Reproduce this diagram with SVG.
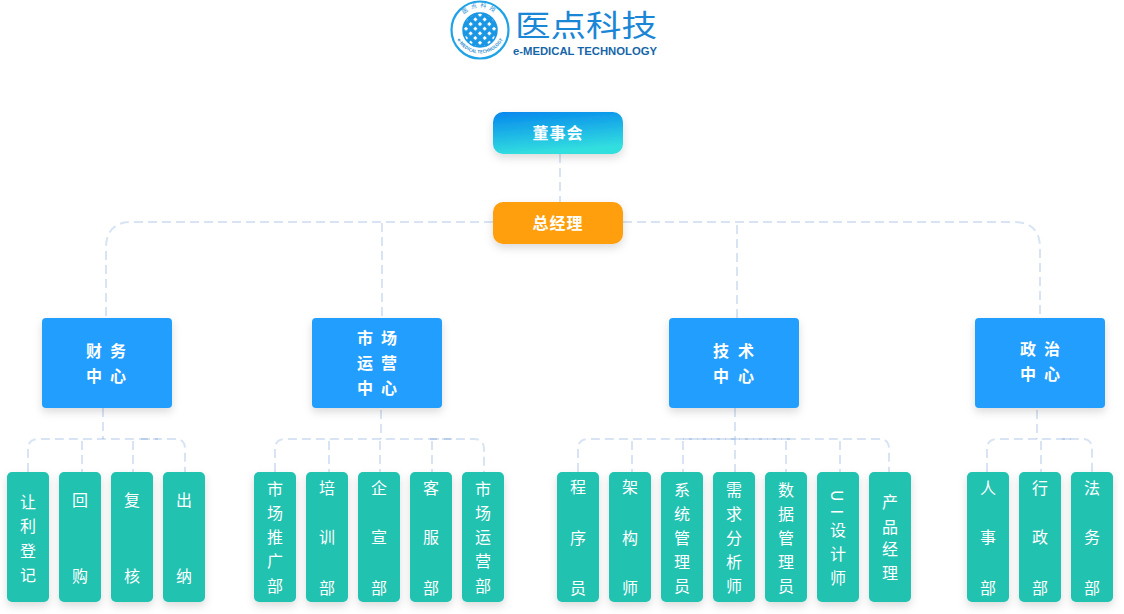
<svg xmlns="http://www.w3.org/2000/svg" width="1124" height="614" viewBox="0 0 1124 614">
<style>
text{font-family:"Noto Sans CJK SC","Noto Sans",sans-serif;fill:#fff;font-size:16px}
.b{font-weight:700;text-anchor:middle}
.t{text-anchor:middle}
.c{fill:none;stroke:#3c78c8;stroke-opacity:.2;stroke-width:2;stroke-dasharray:9 5}
.leaf{fill:#21c2b1;filter:url(#s)}
.mid{fill:#249eff;filter:url(#s)}
</style>
<defs>
<filter id="s" x="-30%" y="-30%" width="160%" height="170%"><feDropShadow dx="0" dy="4" stdDeviation="4" flood-color="#000" flood-opacity=".14"/></filter>
<linearGradient id="g" x1="0" y1="0" x2="0.25" y2="1"><stop offset="0" stop-color="#0587ee"/><stop offset="1" stop-color="#33dfdf"/></linearGradient>
<pattern id="dots" width="6.6" height="6.6" patternUnits="userSpaceOnUse" patternTransform="translate(480 30) rotate(45)"><rect width="6.6" height="6.6" fill="#1a97e4"/><rect x="0.9" y="0.9" width="3" height="3" fill="#fff"/></pattern>
<path id="ringTop" d="M457.5 30A22.5 22.5 0 0 1 502.5 30"/>
<path id="ringBot" d="M455 33A25.500 25.500 0 0 0 505 33"/>
</defs>
<g id="logo">
<circle cx="480" cy="30" r="28.500" fill="#fff" stroke="#1fa3e6" stroke-width="2.200"/>
<circle cx="480" cy="30" r="17" fill="url(#dots)" stroke="#1a97e4" stroke-width="1.500"/>
<text style="font-size:6px;fill:#2f8fcf;letter-spacing:3px" text-anchor="middle"><textPath href="#ringTop" startOffset="50%">医点科技</textPath></text>
<text style="font-size:4.500px;fill:#2f8fcf;font-weight:700" text-anchor="middle"><textPath href="#ringBot" startOffset="50%">e-MEDICAL TECHNOLOGY</textPath></text>
<text x="515" y="36" textLength="142" lengthAdjust="spacingAndGlyphs" style="font-size:30px;font-weight:400;fill:#1a86d6">医点科技</text>
<text x="513" y="55" textLength="144" lengthAdjust="spacingAndGlyphs" style="font-family:'Liberation Sans',sans-serif;font-size:10.500px;font-weight:700;fill:#1565a8">e-MEDICAL TECHNOLOGY</text>
</g>
<g id="connectors">
<path class="c" d="M560 154V202"/>
<path class="c" d="M493 222H132Q106 222 106 248V318"/>
<path class="c" d="M623 222H1014Q1040 222 1040 248V318"/>
<path class="c" d="M382 223V318"/>
<path class="c" d="M737 225V318"/>
<path class="c" d="M103 408V439"/>
<path class="c" d="M28 472V449Q28 439 38 439H175Q185 439 185 449V472"/>
<path class="c" d="M82 441V472M133 441V472"/>
<path class="c" d="M141 439H158"/>
<path class="c" d="M381 410V439"/>
<path class="c" d="M275 472V449Q275 439 285 439H474Q484 439 484 449V472"/>
<path class="c" d="M329 441V472M380 441V472M432 441V472"/>
<path class="c" d="M430 439H452"/>
<path class="c" d="M735 408V472"/>
<path class="c" d="M578 472V449Q578 439 588 439H879Q889 439 889 449V472"/>
<path class="c" d="M632 441V472M683 441V472M786 441V472M840 441V472"/>
<path class="c" d="M683 439H790"/>
<path class="c" d="M1037 410V439"/>
<path class="c" d="M987 472V449Q987 439 997 439H1082Q1092 439 1092 449V472"/>
<path class="c" d="M1041 441V472"/>
<path class="c" d="M1062 439H1076"/>
</g>
<g id="n-board"><rect x="493" y="112" width="130" height="42" rx="10" fill="url(#g)" filter="url(#s)"/><text class="b" x="558" y="139" letter-spacing="1">董事会</text></g>
<g id="n-gm"><rect x="493" y="202" width="130" height="42" rx="10" fill="#ff9f0c" filter="url(#s)"/><text class="b" x="558" y="228.500" letter-spacing="1">总经理</text></g>
<g id="n-fin"><rect class="mid" x="42" y="318" width="130" height="90" rx="4"/><text class="b"><tspan x="94" y="356.500">财</tspan><tspan x="118" y="356.500">务</tspan><tspan x="94" y="381.500">中</tspan><tspan x="118" y="381.500">心</tspan></text></g>
<g id="n-mkt"><rect class="mid" x="312" y="318" width="130" height="90" rx="4"/><text class="b"><tspan x="365" y="343.500">市</tspan><tspan x="389" y="343.500">场</tspan><tspan x="365" y="368.500">运</tspan><tspan x="389" y="368.500">营</tspan><tspan x="365" y="393.500">中</tspan><tspan x="389" y="393.500">心</tspan></text></g>
<g id="n-tech"><rect class="mid" x="669" y="318" width="130" height="90" rx="4"/><text class="b"><tspan x="721" y="356.500">技</tspan><tspan x="746" y="356.500">术</tspan><tspan x="721" y="381.500">中</tspan><tspan x="746" y="381.500">心</tspan></text></g>
<g id="n-pol"><rect class="mid" x="975" y="318" width="130" height="90" rx="4"/><text class="b"><tspan x="1028" y="354.500">政</tspan><tspan x="1052" y="354.500">治</tspan><tspan x="1028" y="379.500">中</tspan><tspan x="1052" y="379.500">心</tspan></text></g>
<g id="l1"><rect class="leaf" x="7" y="472" width="42" height="130" rx="5"/><text class="t"><tspan x="28" y="507.500">让</tspan><tspan x="28" y="532">利</tspan><tspan x="28" y="556.500">登</tspan><tspan x="28" y="580.500">记</tspan></text></g>
<g id="l2"><rect class="leaf" x="59" y="472" width="42" height="130" rx="5"/><text class="t"><tspan x="80" y="506">回</tspan><tspan x="80" y="582">购</tspan></text></g>
<g id="l3"><rect class="leaf" x="111" y="472" width="42" height="130" rx="5"/><text class="t"><tspan x="132" y="506">复</tspan><tspan x="132" y="582">核</tspan></text></g>
<g id="l4"><rect class="leaf" x="163" y="472" width="42" height="130" rx="5"/><text class="t"><tspan x="184" y="506">出</tspan><tspan x="184" y="582">纳</tspan></text></g>
<g id="l5"><rect class="leaf" x="254" y="472" width="42" height="130" rx="5"/><text class="t"><tspan x="275" y="495">市</tspan><tspan x="275" y="519">场</tspan><tspan x="275" y="543">推</tspan><tspan x="275" y="567">广</tspan><tspan x="275" y="591.500">部</tspan></text></g>
<g id="l6"><rect class="leaf" x="306" y="472" width="42" height="130" rx="5"/><text class="t"><tspan x="327" y="493.500">培</tspan><tspan x="327" y="543">训</tspan><tspan x="327" y="593.500">部</tspan></text></g>
<g id="l7"><rect class="leaf" x="358" y="472" width="42" height="130" rx="5"/><text class="t"><tspan x="379" y="493.500">企</tspan><tspan x="379" y="543">宣</tspan><tspan x="379" y="593.500">部</tspan></text></g>
<g id="l8"><rect class="leaf" x="410" y="472" width="42" height="130" rx="5"/><text class="t"><tspan x="431" y="493.500">客</tspan><tspan x="431" y="543">服</tspan><tspan x="431" y="593.500">部</tspan></text></g>
<g id="l9"><rect class="leaf" x="462" y="472" width="42" height="130" rx="5"/><text class="t"><tspan x="483" y="495">市</tspan><tspan x="483" y="519">场</tspan><tspan x="483" y="543">运</tspan><tspan x="483" y="567">营</tspan><tspan x="483" y="591.500">部</tspan></text></g>
<g id="l10"><rect class="leaf" x="557" y="472" width="42" height="130" rx="5"/><text class="t"><tspan x="578" y="493">程</tspan><tspan x="578" y="543.500">序</tspan><tspan x="578" y="593.500">员</tspan></text></g>
<g id="l11"><rect class="leaf" x="609" y="472" width="42" height="130" rx="5"/><text class="t"><tspan x="630" y="493">架</tspan><tspan x="630" y="543.500">构</tspan><tspan x="630" y="593.500">师</tspan></text></g>
<g id="l12"><rect class="leaf" x="661" y="472" width="42" height="130" rx="5"/><text class="t"><tspan x="682" y="495.500">系</tspan><tspan x="682" y="519.500">统</tspan><tspan x="682" y="543.500">管</tspan><tspan x="682" y="567.500">理</tspan><tspan x="682" y="591.500">员</tspan></text></g>
<g id="l13"><rect class="leaf" x="713" y="472" width="42" height="130" rx="5"/><text class="t"><tspan x="734" y="495.500">需</tspan><tspan x="734" y="519.500">求</tspan><tspan x="734" y="543.500">分</tspan><tspan x="734" y="567.500">析</tspan><tspan x="734" y="591.500">师</tspan></text></g>
<g id="l14"><rect class="leaf" x="765" y="472" width="42" height="130" rx="5"/><text class="t"><tspan x="786" y="495.500">数</tspan><tspan x="786" y="519.500">据</tspan><tspan x="786" y="543.500">管</tspan><tspan x="786" y="567.500">理</tspan><tspan x="786" y="591.500">员</tspan></text></g>
<g id="l15"><rect class="leaf" x="817" y="472" width="42" height="130" rx="5"/><text x="838" y="490" style="writing-mode:vertical-rl;letter-spacing:8px">UI设计师</text></g>
<g id="l16"><rect class="leaf" x="869" y="472" width="42" height="130" rx="5"/><text class="t"><tspan x="890" y="507.500">产</tspan><tspan x="890" y="532.500">品</tspan><tspan x="890" y="555">经</tspan><tspan x="890" y="579">理</tspan></text></g>
<g id="l17"><rect class="leaf" x="967" y="472" width="42" height="130" rx="5"/><text class="t"><tspan x="988" y="493.500">人</tspan><tspan x="988" y="543">事</tspan><tspan x="988" y="593.500">部</tspan></text></g>
<g id="l18"><rect class="leaf" x="1019" y="472" width="42" height="130" rx="5"/><text class="t"><tspan x="1040" y="493.500">行</tspan><tspan x="1040" y="543">政</tspan><tspan x="1040" y="593.500">部</tspan></text></g>
<g id="l19"><rect class="leaf" x="1071" y="472" width="42" height="130" rx="5"/><text class="t"><tspan x="1092" y="493.500">法</tspan><tspan x="1092" y="543">务</tspan><tspan x="1092" y="593.500">部</tspan></text></g>
</svg>
